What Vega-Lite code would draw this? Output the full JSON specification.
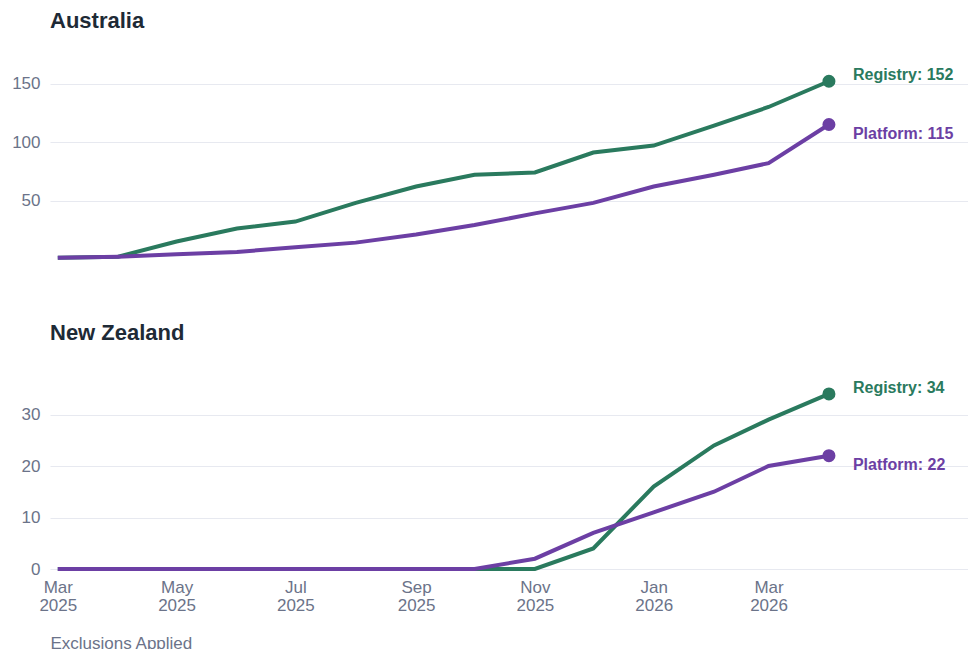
{
  "$schema": "https://vega.github.io/schema/vega-lite/v6.json",
  "padding": {"left": 11, "top": 10, "right": 0, "bottom": 0},
  "background": "white",
  "config": {
    "font": "Liberation Sans",
    "view": {"stroke": null},
    "axis": {"labelFont": "Liberation Sans", "labelFontSize": 17, "labelColor": "#6b7389", "ticks": false, "domain": false, "gridColor": "#e7e9f0", "gridWidth": 1, "titleFont": "Liberation Sans"},
    "title": {"font": "Liberation Sans", "fontSize": 22, "fontWeight": "bold", "color": "#1e2a36", "anchor": "start", "frame": "group"}
  },
  "datasets": {
    "au": [
      {"month": "2025-03-01", "series": "Registry", "count": 1},
      {"month": "2025-04-01", "series": "Registry", "count": 2},
      {"month": "2025-05-01", "series": "Registry", "count": 15},
      {"month": "2025-06-01", "series": "Registry", "count": 26},
      {"month": "2025-07-01", "series": "Registry", "count": 32},
      {"month": "2025-08-01", "series": "Registry", "count": 48},
      {"month": "2025-09-01", "series": "Registry", "count": 62},
      {"month": "2025-10-01", "series": "Registry", "count": 72},
      {"month": "2025-11-01", "series": "Registry", "count": 74},
      {"month": "2025-12-01", "series": "Registry", "count": 91},
      {"month": "2026-01-01", "series": "Registry", "count": 97},
      {"month": "2026-02-01", "series": "Registry", "count": 114},
      {"month": "2026-03-01", "series": "Registry", "count": 130},
      {"month": "2026-04-01", "series": "Registry", "count": 152},
      {"month": "2025-03-01", "series": "Platform", "count": 1},
      {"month": "2025-04-01", "series": "Platform", "count": 2},
      {"month": "2025-05-01", "series": "Platform", "count": 4},
      {"month": "2025-06-01", "series": "Platform", "count": 6},
      {"month": "2025-07-01", "series": "Platform", "count": 10},
      {"month": "2025-08-01", "series": "Platform", "count": 14},
      {"month": "2025-09-01", "series": "Platform", "count": 21},
      {"month": "2025-10-01", "series": "Platform", "count": 29},
      {"month": "2025-11-01", "series": "Platform", "count": 39},
      {"month": "2025-12-01", "series": "Platform", "count": 48},
      {"month": "2026-01-01", "series": "Platform", "count": 62},
      {"month": "2026-02-01", "series": "Platform", "count": 72},
      {"month": "2026-03-01", "series": "Platform", "count": 82},
      {"month": "2026-04-01", "series": "Platform", "count": 115}
    ],
    "nz": [
      {"month": "2025-03-01", "series": "Registry", "count": 0},
      {"month": "2025-04-01", "series": "Registry", "count": 0},
      {"month": "2025-05-01", "series": "Registry", "count": 0},
      {"month": "2025-06-01", "series": "Registry", "count": 0},
      {"month": "2025-07-01", "series": "Registry", "count": 0},
      {"month": "2025-08-01", "series": "Registry", "count": 0},
      {"month": "2025-09-01", "series": "Registry", "count": 0},
      {"month": "2025-10-01", "series": "Registry", "count": 0},
      {"month": "2025-11-01", "series": "Registry", "count": 0},
      {"month": "2025-12-01", "series": "Registry", "count": 4},
      {"month": "2026-01-01", "series": "Registry", "count": 16},
      {"month": "2026-02-01", "series": "Registry", "count": 24},
      {"month": "2026-03-01", "series": "Registry", "count": 29},
      {"month": "2026-04-01", "series": "Registry", "count": 34},
      {"month": "2025-03-01", "series": "Platform", "count": 0},
      {"month": "2025-04-01", "series": "Platform", "count": 0},
      {"month": "2025-05-01", "series": "Platform", "count": 0},
      {"month": "2025-06-01", "series": "Platform", "count": 0},
      {"month": "2025-07-01", "series": "Platform", "count": 0},
      {"month": "2025-08-01", "series": "Platform", "count": 0},
      {"month": "2025-09-01", "series": "Platform", "count": 0},
      {"month": "2025-10-01", "series": "Platform", "count": 0},
      {"month": "2025-11-01", "series": "Platform", "count": 2},
      {"month": "2025-12-01", "series": "Platform", "count": 7},
      {"month": "2026-01-01", "series": "Platform", "count": 11},
      {"month": "2026-02-01", "series": "Platform", "count": 15},
      {"month": "2026-03-01", "series": "Platform", "count": 20},
      {"month": "2026-04-01", "series": "Platform", "count": 22}
    ]
  },
  "spacing": 56,
  "vconcat": [
    {
      "width": 918,
      "height": 207,
      "title": {"text": "Australia", "offset": 19},
      "data": {"name": "au"},
      "encoding": {
        "x": {"field": "month", "type": "temporal", "scale": {"type": "utc", "domain": [{"year": 2025, "month": "feb", "date": 25, "hours": 0, "utc": true}, {"year": 2026, "month": "jun", "date": 11, "hours": 10, "utc": true}]}, "axis": null},
        "y": {"field": "count", "type": "quantitative", "scale": {"domain": [0, 177], "nice": false}, "axis": {"values": [50, 100, 150], "title": null, "labelPadding": 10, "grid": true}},
        "color": {"field": "series", "type": "nominal", "scale": {"domain": ["Registry", "Platform"], "range": ["#2a7a5e", "#6c3fa4"]}, "legend": null}
      },
      "layer": [
        {"mark": {"type": "line", "strokeWidth": 4}},
        {
          "transform": [{"joinaggregate": [{"op": "max", "field": "month", "as": "maxm"}]}, {"filter": "+datum.month === +datum.maxm"}],
          "mark": {"type": "circle", "size": 170, "opacity": 1}
        },
        {
          "transform": [{"joinaggregate": [{"op": "max", "field": "month", "as": "maxm"}]}, {"filter": "+datum.month === +datum.maxm && datum.series === 'Registry'"}, {"calculate": "datum.series + ': ' + datum.count", "as": "label"}],
          "mark": {"type": "text", "align": "left", "baseline": "middle", "dx": 24, "dy": -6, "fontSize": 16, "fontWeight": "bold"},
          "encoding": {"text": {"field": "label"}}
        },
        {
          "transform": [{"joinaggregate": [{"op": "max", "field": "month", "as": "maxm"}]}, {"filter": "+datum.month === +datum.maxm && datum.series === 'Platform'"}, {"calculate": "datum.series + ': ' + datum.count", "as": "label"}],
          "mark": {"type": "text", "align": "left", "baseline": "middle", "dx": 24, "dy": 9, "fontSize": 16, "fontWeight": "bold"},
          "encoding": {"text": {"field": "label"}}
        }
      ]
    },
    {
      "width": 918,
      "height": 206,
      "title": {"text": "New Zealand", "offset": 18},
      "data": {"name": "nz"},
      "encoding": {
        "x": {"field": "month", "type": "temporal", "scale": {"type": "utc", "domain": [{"year": 2025, "month": "feb", "date": 25, "hours": 0, "utc": true}, {"year": 2026, "month": "jun", "date": 11, "hours": 10, "utc": true}]},
          "axis": {
            "values": [
              {"year": 2025, "month": "mar", "date": 1, "utc": true},
              {"year": 2025, "month": "may", "date": 1, "utc": true},
              {"year": 2025, "month": "jul", "date": 1, "utc": true},
              {"year": 2025, "month": "sep", "date": 1, "utc": true},
              {"year": 2025, "month": "nov", "date": 1, "utc": true},
              {"year": 2026, "month": "jan", "date": 1, "utc": true},
              {"year": 2026, "month": "mar", "date": 1, "utc": true}
            ],
            "labelExpr": "[utcFormat(datum.value, '%b'), utcFormat(datum.value, '%Y')]",
            "labelPadding": 10,
            "labelLineHeight": 18,
            "labelFlush": false,
            "labelOverlap": false,
            "grid": false,
            "title": "Exclusions Applied",
            "titleAnchor": "start",
            "titleAlign": "left",
            "titleFontSize": 17,
            "titleFontWeight": "normal",
            "titleColor": "#6b7389",
            "titlePadding": 22
          }
        },
        "y": {"field": "count", "type": "quantitative", "scale": {"domain": [0, 40], "nice": false}, "axis": {"values": [0, 10, 20, 30], "title": null, "labelPadding": 10, "grid": true}},
        "color": {"field": "series", "type": "nominal", "scale": {"domain": ["Registry", "Platform"], "range": ["#2a7a5e", "#6c3fa4"]}, "legend": null}
      },
      "layer": [
        {"mark": {"type": "line", "strokeWidth": 4}},
        {
          "transform": [{"joinaggregate": [{"op": "max", "field": "month", "as": "maxm"}]}, {"filter": "+datum.month === +datum.maxm"}],
          "mark": {"type": "circle", "size": 170, "opacity": 1}
        },
        {
          "transform": [{"joinaggregate": [{"op": "max", "field": "month", "as": "maxm"}]}, {"filter": "+datum.month === +datum.maxm && datum.series === 'Registry'"}, {"calculate": "datum.series + ': ' + datum.count", "as": "label"}],
          "mark": {"type": "text", "align": "left", "baseline": "middle", "dx": 24, "dy": -6, "fontSize": 16, "fontWeight": "bold"},
          "encoding": {"text": {"field": "label"}}
        },
        {
          "transform": [{"joinaggregate": [{"op": "max", "field": "month", "as": "maxm"}]}, {"filter": "+datum.month === +datum.maxm && datum.series === 'Platform'"}, {"calculate": "datum.series + ': ' + datum.count", "as": "label"}],
          "mark": {"type": "text", "align": "left", "baseline": "middle", "dx": 24, "dy": 9, "fontSize": 16, "fontWeight": "bold"},
          "encoding": {"text": {"field": "label"}}
        }
      ]
    }
  ]
}
